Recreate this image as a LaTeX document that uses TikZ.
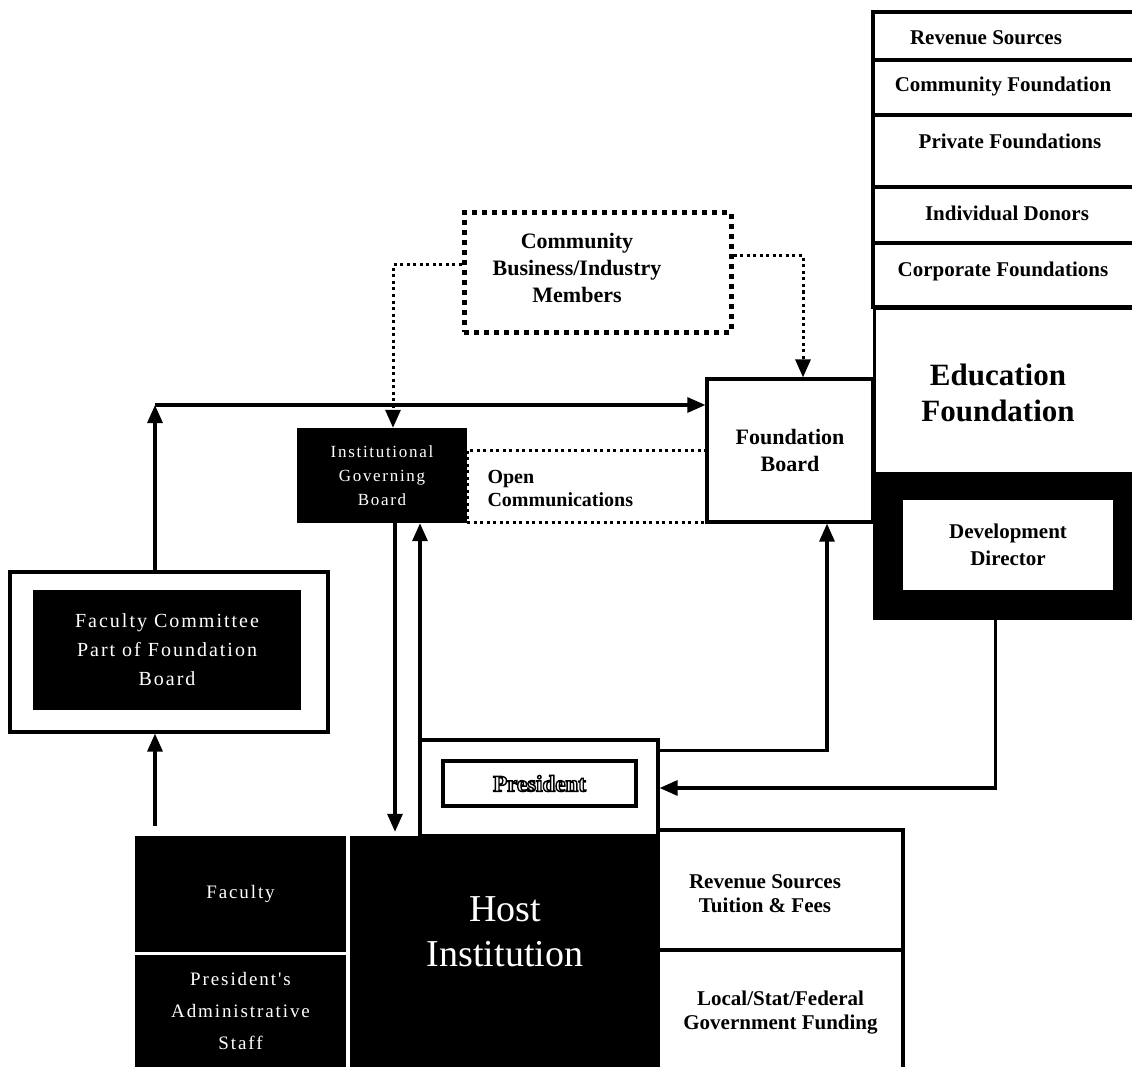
\documentclass[tikz,border=0pt]{standalone}
\usepackage{fontspec}
\setmainfont{Liberation Serif}
\newfontfamily\spacedserif[LetterSpace=10]{Liberation Serif}
\usepackage{tikz}
\usetikzlibrary{arrows.meta, positioning, calc}

% outlined lettering (white fill, black stroke)
\newcommand{\outlined}[1]{\special{pdf:literal direct 2 Tr 1.4 w 1 g}#1\special{pdf:literal direct 0 Tr 0 g}}

\tikzset{
  box/.style={rectangle, draw, line width=3.2pt, fill=white, inner sep=0pt, align=center},
  blackbox/.style={rectangle, fill=black, inner sep=0pt, align=center, text=white},
  boldtext/.style={font=\bfseries\fontsize{21}{24}\selectfont, align=center},
  whitetext/.style={text=white, align=center, font=\spacedserif\fontsize{19}{32}\selectfont},
  arrow/.style={-{Triangle[length=18pt,width=15pt]}, line width=3.2pt},
  dotline/.style={line width=3pt, dash pattern=on 3pt off 3.5pt},
  bigdots/.style={line width=5pt, dash pattern=on 5pt off 5pt}
}

\begin{document}
\begin{tikzpicture}[x=1pt, y=-1pt]
\useasboundingbox (0,0) rectangle (1132,1067);

% Revenue sources column
\foreach \ya/\yb/\tx/\ty/\txt [count=\i] in {12/60/986/38/Revenue Sources, 60/115/1003/86/Community Foundation, 115/187/1010/141/Private Foundations, 187/243/1007/213/Individual Donors, 243/307/1003/271/Corporate Foundations} {
  \draw[line width=3.2pt] (873,\ya) rectangle (1140,\yb);
  \node[boldtext] (src\i) at (\tx,\ty) {\txt};
}

% Education foundation and development director
\node[box, anchor=north west, minimum width=267pt, minimum height=165pt, font=\bfseries\fontsize{31}{36}\selectfont] (edf) at (873,307) {};
\node[align=center, font=\bfseries\fontsize{31}{36}\selectfont] (edftext) at (998,393) {Education\\Foundation};
\node[blackbox, anchor=north west, minimum width=267pt, minimum height=148pt] (devbg) at (873,472) {};
\node[rectangle, fill=white, inner sep=0pt, minimum width=210pt, minimum height=90pt, align=center, font=\bfseries\fontsize{21}{27}\selectfont] (dev) at (1008,545) {Development\\Director};

% Open communications
\node[rectangle, draw, dotline, minimum width=240pt, minimum height=72pt] (ocbox) at (587,486) {};
\node[anchor=west, align=left, font=\bfseries\fontsize{20}{23}\selectfont] (octext) at (484,488) {Open\\Communications};

% Boards
\node[box, minimum width=166pt, minimum height=143pt, font=\bfseries\fontsize{22}{27}\selectfont] (fb) at (790,450.5) {Foundation\\Board};
\node[blackbox, minimum width=170pt, minimum height=95pt, font=\spacedserif\fontsize{17}{24}\selectfont] (igb) at (382,475.5) {Institutional\\Governing\\Board};

% Community members
\node[rectangle, draw, bigdots, minimum width=267pt, minimum height=119pt] (cbox) at (597.5,272.5) {};
\node[align=center, font=\bfseries\fontsize{22}{27}\selectfont] (ctext) at (577,268) {Community\\Business/Industry\\Members};
\draw[dotline, -{Triangle[length=18pt,width=15pt]}] ([yshift=7.5pt]cbox.west) -| ([xshift=11pt]igb.north);
\draw[dotline, -{Triangle[length=18pt,width=15pt]}] ([yshift=16.5pt]cbox.east) -| ([xshift=13pt]fb.north);

% Faculty committee
\node[box, minimum width=318pt, minimum height=160pt] (fcom) at (169,652) {};
\node[blackbox, minimum width=268pt, minimum height=120pt, whitetext, font=\spacedserif\fontsize{20}{29}\selectfont] (fcomin) at (167,650) {Faculty Committee\\Part of Foundation\\Board};
\coordinate (fcorner) at (155,405);
\draw[arrow] (fcom.north -| fcorner) -- (fcorner);
\draw[arrow] (fcorner) -- (fcorner -| fb.west);

% President
\node[box, fill=none, minimum width=238pt, minimum height=96pt] (presarea) at (539,788) {};
\node[box, minimum width=193pt, minimum height=45pt, font=\bfseries\fontsize{23}{26}\selectfont] (pres) at (539.5,783.5) {\outlined{President}};

% Host institution
\node[blackbox, minimum width=211pt, minimum height=116pt, whitetext] (fac) at (240.5,894) {Faculty};
\node[blackbox, minimum width=211pt, minimum height=112pt, whitetext] (staff) at (240.5,1011) {President's\\Administrative\\Staff};
\node[blackbox, minimum width=308pt, minimum height=231pt] (host) at (504,951.5) {};
\node[text=white, align=center, font=\fontsize{38}{45}\selectfont] (hosttext) at (505,932) {Host\\Institution};
\node[box, minimum width=245pt, minimum height=120pt, boldtext] (tuition) at (780.5,890) {};
\node[boldtext] (tuitext) at (765,894) {Revenue Sources\\Tuition \& Fees};
\node[box, minimum width=245pt, minimum height=125pt, boldtext] (govfund) at (780.5,1012.5) {Local/Stat/Federal\\Government Funding};

% Connections
\coordinate (facup) at (155,826);
\draw[arrow] (facup) -- (facup |- fcom.south);
\coordinate (dnx) at (395,0);
\coordinate (upx) at (420,0);
\draw[arrow, shorten >=4pt] (igb.south -| dnx) -- (host.north -| dnx);
\draw[arrow] (host.north -| upx) -- (igb.south -| upx);
\draw[arrow] ([yshift=-12pt]presarea.north east) -| ([xshift=37pt]fb.south);
\draw[arrow] ([xshift=-11.5pt]devbg.south) |- (presarea.east);
\end{tikzpicture}
\end{document}
